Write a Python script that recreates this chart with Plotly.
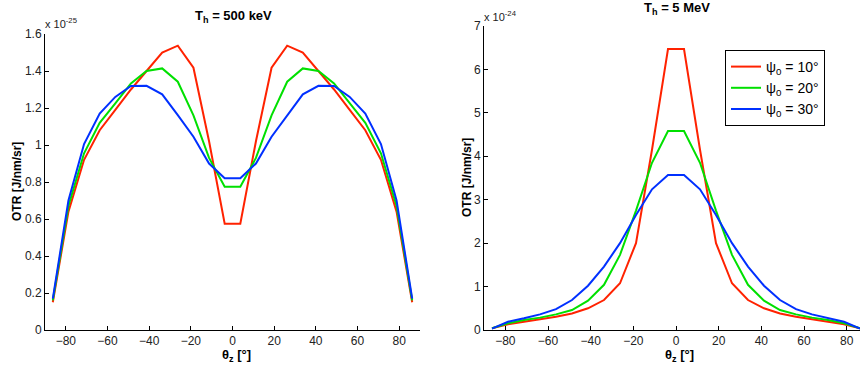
import plotly.graph_objects as go

# ---------------- data ----------------
theta = [-86.25, -78.75, -71.25, -63.75, -56.25, -48.75, -41.25, -33.75, -26.25, -18.75, -11.25, -3.75,
         3.75, 11.25, 18.75, 26.25, 33.75, 41.25, 48.75, 56.25, 63.75, 71.25, 78.75, 86.25]

# left panel, T_h = 500 keV, units of 1e-25 J/nm/sr
otr500_psi10 = [0.15, 0.64, 0.92, 1.08, 1.19, 1.30, 1.40, 1.50, 1.537, 1.418, 1.02, 0.575,
                0.575, 1.02, 1.418, 1.537, 1.50, 1.40, 1.30, 1.19, 1.08, 0.92, 0.64, 0.15]
otr500_psi20 = [0.16, 0.67, 0.955, 1.12, 1.225, 1.333, 1.40, 1.414, 1.342, 1.16, 0.93, 0.775,
                0.775, 0.93, 1.16, 1.342, 1.414, 1.40, 1.333, 1.225, 1.12, 0.955, 0.67, 0.16]
otr500_psi30 = [0.17, 0.70, 1.005, 1.17, 1.26, 1.319, 1.32, 1.274, 1.162, 1.045, 0.90, 0.82,
                0.82, 0.90, 1.045, 1.162, 1.274, 1.32, 1.319, 1.26, 1.17, 1.005, 0.70, 0.17]

# right panel, T_h = 5 MeV, units of 1e-24 J/nm/sr
otr5_psi10 = [0.04, 0.13, 0.19, 0.245, 0.305, 0.38, 0.50, 0.69, 1.075, 2.0, 4.15, 6.47,
              6.47, 4.15, 2.0, 1.075, 0.69, 0.50, 0.38, 0.305, 0.245, 0.19, 0.13, 0.04]
otr5_psi20 = [0.04, 0.155, 0.23, 0.285, 0.36, 0.46, 0.675, 1.04, 1.73, 2.75, 3.85, 4.58,
              4.58, 3.85, 2.75, 1.73, 1.04, 0.675, 0.46, 0.36, 0.285, 0.23, 0.155, 0.04]
otr5_psi30 = [0.03, 0.19, 0.27, 0.36, 0.48, 0.69, 1.02, 1.46, 2.0, 2.65, 3.24, 3.57,
              3.57, 3.24, 2.65, 2.0, 1.46, 1.02, 0.69, 0.48, 0.36, 0.27, 0.19, 0.03]

series_names = ["ψ<sub>0</sub> = 10°", "ψ<sub>0</sub> = 20°", "ψ<sub>0</sub> = 30°"]
colors = ["#ff2200", "#00e000", "#0030ff"]

x_ticks = [-80, -60, -40, -20, 0, 20, 40, 60, 80]
y_ticks_left = [0, 0.2, 0.4, 0.6, 0.8, 1, 1.2, 1.4, 1.6]
y_ticks_left_text = ["0", "0.2", "0.4", "0.6", "0.8", "1", "1.2", "1.4", "1.6"]
y_ticks_right = [0, 1, 2, 3, 4, 5, 6, 7]

# ---------------- figure ----------------
W, H = 860, 370
FONT = "Liberation Sans, Arial, Helvetica, sans-serif"

fig = go.Figure()
for vals, name, c in zip([otr500_psi10, otr500_psi20, otr500_psi30], series_names, colors):
    fig.add_trace(go.Scatter(x=theta, y=vals, mode="lines", name=name,
                             line=dict(color=c, width=2), xaxis="x", yaxis="y",
                             showlegend=False))
for vals, name, c in zip([otr5_psi10, otr5_psi20, otr5_psi30], series_names, colors):
    fig.add_trace(go.Scatter(x=theta, y=vals, mode="lines", name=name,
                             line=dict(color=c, width=2), xaxis="x2", yaxis="y2",
                             showlegend=True))

def px(x):
    return x / W

def py(y):
    return 1 - y / H

axis_common = dict(showgrid=False, zeroline=False, showline=True, linecolor="black",
                   linewidth=1, ticks="inside", ticklen=4, tickcolor="black",
                   tickfont=dict(family=FONT, size=12, color="#222"), mirror=False,
                   automargin=False)

fig.update_layout(
    width=W, height=H, autosize=False,
    margin=dict(l=0, r=0, t=0, b=0, pad=0),
    paper_bgcolor="white", plot_bgcolor="white",
    font=dict(family=FONT, size=12, color="black"),
    xaxis=dict(domain=[px(45), px(420)], range=[-90, 90], tickvals=x_ticks,
               anchor="y", **axis_common),
    yaxis=dict(domain=[py(330), py(34)], range=[0, 1.6], tickvals=y_ticks_left,
               ticktext=y_ticks_left_text, anchor="x", **axis_common),
    xaxis2=dict(domain=[px(484), 1.0], range=[-90, 86.25], tickvals=x_ticks,
                anchor="y2", **axis_common),
    yaxis2=dict(domain=[py(330), py(26)], range=[0, 7], tickvals=y_ticks_right,
                anchor="x2", **axis_common),
    legend=dict(x=px(725), y=py(50), xanchor="left", yanchor="top",
                bordercolor="black", borderwidth=1, bgcolor="white",
                font=dict(family=FONT, size=14, color="black"),
                itemwidth=30, tracegroupgap=0, entrywidth=130, entrywidthmode="pixels"),
)

def label(text, x, y, size=13, angle=0, xa="center", ya="middle", color="black"):
    return dict(text=text, x=px(x), y=py(y), xref="paper", yref="paper",
                xanchor=xa, yanchor=ya, showarrow=False, textangle=angle,
                font=dict(family=FONT, size=size, color=color))

ann = [
    label("<b>T<sub>h</sub> = 500 keV</b>", 233, 16),
    label("<b>T<sub>h</sub> = 5 MeV</b>", 677, 8),
    label("<b>OTR [J/nm/sr]</b>", 17, 182, size=12, angle=-90),
    label("<b>OTR [J/nm/sr]</b>", 467, 178, size=12, angle=-90),
    label("<b>θ<sub>z</sub> [°]</b>", 236, 355),
    label("<b>θ<sub>z</sub> [°]</b>", 679, 355),
    label("x 10<sup>-25</sup>", 43, 23, size=11, xa="left", color="#222"),
    label("x 10<sup>-24</sup>", 482, 16, size=11, xa="left", color="#222"),
]
fig.update_layout(annotations=ann)

fig.write_html("out.html", config={"displayModeBar": False},
               post_script="document.body.style.margin='0px';document.body.style.padding='0px';")
